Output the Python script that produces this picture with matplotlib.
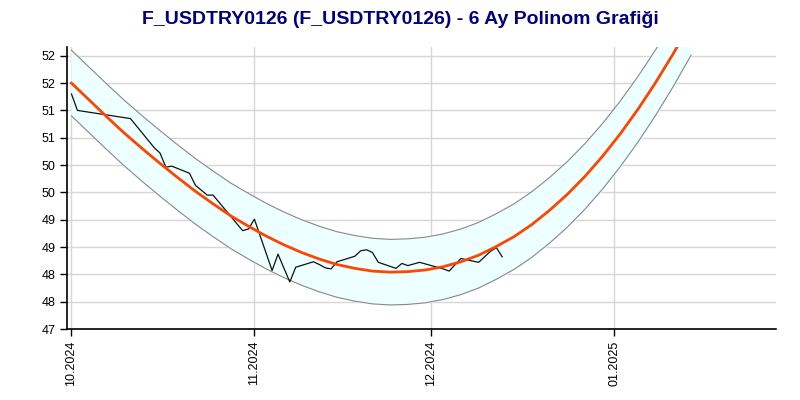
import numpy as np
import pandas as pd
import matplotlib
matplotlib.use("Agg")
import matplotlib.pyplot as plt
import matplotlib.dates as mdates
from matplotlib.ticker import FuncFormatter

plt.rcParams['font.family'] = ['Liberation Sans', 'DejaVu Sans']

# price data
price_dates = ['2024-10-01', '2024-10-02', '2024-10-11', '2024-10-15', '2024-10-16',
               '2024-10-17', '2024-10-18', '2024-10-21', '2024-10-22', '2024-10-23',
               '2024-10-24', '2024-10-25', '2024-10-30', '2024-10-31', '2024-11-01',
               '2024-11-04', '2024-11-05', '2024-11-07', '2024-11-08', '2024-11-11',
               '2024-11-12', '2024-11-13', '2024-11-14', '2024-11-15', '2024-11-18',
               '2024-11-19', '2024-11-20', '2024-11-21', '2024-11-22', '2024-11-25',
               '2024-11-26', '2024-11-27', '2024-11-29', '2024-12-02', '2024-12-03',
               '2024-12-04', '2024-12-06', '2024-12-09', '2024-12-11', '2024-12-12',
               '2024-12-13']
prices = [51.30, 51.00, 50.85, 50.32, 50.22,
          49.96, 49.98, 49.85, 49.63, 49.54,
          49.45, 49.45, 48.80, 48.83, 49.01,
          48.07, 48.37, 47.86, 48.13, 48.23,
          48.18, 48.12, 48.10, 48.23, 48.33,
          48.43, 48.45, 48.40, 48.22, 48.11,
          48.20, 48.16, 48.22, 48.13, 48.10,
          48.06, 48.29, 48.22, 48.42, 48.49,
          48.32]

# polynomial trend, every 3 days from 2024-10-01
trend_start = '2024-10-01'
trend = [51.50, 51.19, 50.88, 50.58, 50.30, 50.03, 49.77, 49.52, 49.29, 49.07,
         48.88, 48.70, 48.54, 48.40, 48.28, 48.18, 48.11, 48.06, 48.04, 48.05,
         48.08, 48.14, 48.23, 48.35, 48.51, 48.69, 48.91, 49.17, 49.46, 49.79,
         50.16, 50.57, 51.02, 51.51, 52.04, 52.61]
band_half = 0.6

y_ticks = [47, 47.5, 48, 48.5, 49, 49.5, 50, 50.5, 51, 51.5, 52]
x_ticks = ['2024-10-01', '2024-11-01', '2024-12-01', '2025-01-01']

px = pd.to_datetime(price_dates)
tx = pd.date_range(trend_start, periods=len(trend), freq='3D')
tv = np.array(trend)

fig = plt.figure(figsize=(8, 4), dpi=100)
ax = fig.add_axes([0.08375, 0.1775, 0.88625, 0.705])

ax.fill_between(tx, tv - band_half, tv + band_half, color='#eeffff', zorder=1)
ax.plot(tx, tv + band_half, color='#888888', lw=0.8, zorder=2)
ax.plot(tx, tv - band_half, color='#888888', lw=0.8, zorder=2)
ax.plot(tx, tv, color='#ff4500', lw=2.0, zorder=4)
ax.plot(px, prices, color='#111111', lw=0.9, zorder=3)

x0 = mdates.date2num(pd.Timestamp('2024-10-01'))
ax.set_xlim(x0 - 0.76, x0 + 119.4)
ax.set_ylim(47, 52.16)

ax.set_yticks(y_ticks)
ax.yaxis.set_major_formatter(FuncFormatter(lambda v, p: str(int(np.floor(v + 0.5)))))
ax.set_xticks(mdates.date2num(pd.to_datetime(x_ticks)))
ax.xaxis.set_major_formatter(mdates.DateFormatter('%m.%Y'))
plt.setp(ax.get_xticklabels(), rotation=90)

ax.grid(True, color='#d6d6d6', lw=1)
ax.set_axisbelow(True)
for s in ['top', 'right']:
    ax.spines[s].set_visible(False)
ax.spines['left'].set_linewidth(1.2)
ax.spines['bottom'].set_linewidth(1.2)
ax.tick_params(axis='both', labelsize=9, length=5, width=1, colors='black')

fig.text(0.5, 0.95, 'F_USDTRY0126 (F_USDTRY0126) - 6 Ay Polinom Grafiği',
         ha='center', va='center', fontsize=14, fontweight='bold', color='#000080')

fig.savefig('out.png', dpi=100)
